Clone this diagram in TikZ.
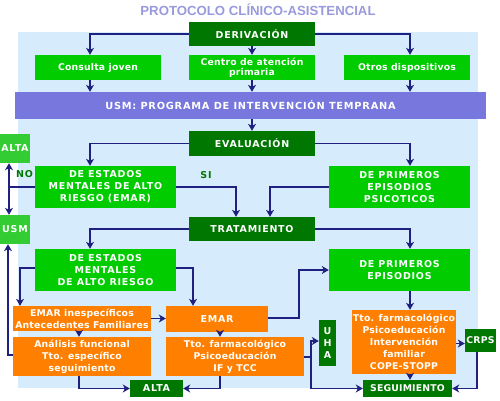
\documentclass[tikz,border=0pt]{standalone}
\usepackage{fontspec}
\usetikzlibrary{arrows.meta,calc}
\newfontfamily\capsf[LetterSpace=8]{DejaVu Sans}
\newfontfamily\lowf[LetterSpace=2]{DejaVu Sans}
\newfontfamily\titlef{Liberation Sans}
\definecolor{bgblue}{RGB}{214,236,252}
\definecolor{dgreen}{RGB}{0,119,0}
\definecolor{bgreen}{RGB}{0,204,0}
\definecolor{lgreen}{RGB}{51,204,51}
\definecolor{purp}{RGB}{119,119,221}
\definecolor{orng}{RGB}{255,128,0}
\definecolor{titlec}{RGB}{153,153,221}
\definecolor{arrowc}{RGB}{32,32,128}
\tikzset{
  bx/.style={inner sep=0pt, align=center, text=white},
  capsfont/.style={font=\capsf\bfseries\fontsize{9.5}{12}\selectfont},
  lowfont/.style={font=\lowf\bfseries\fontsize{9.3}{12}\selectfont},
  dg/.style={bx, fill=dgreen, capsfont},
  bg/.style={bx, fill=bgreen, capsfont},
  bgl/.style={bx, fill=bgreen, lowfont},
  lg/.style={bx, fill=lgreen, capsfont},
  og/.style={bx, fill=orng, lowfont},
  ogc/.style={bx, fill=orng, capsfont},
  lab/.style={inner sep=0pt, text=dgreen, capsfont},
  ln/.style={draw=arrowc, line width=1.7pt},
  arr/.style={ln, -{Stealth[length=7pt,width=8pt,inset=2pt]}}
}
\begin{document}
\begin{tikzpicture}[x=1pt,y=-1pt]
\useasboundingbox (0,0) rectangle (500,400);
\fill[bgblue] (18,32) rectangle (478,388);
\node[anchor=base, inner sep=0pt, text=titlec, font=\titlef\bfseries\fontsize{13.2}{15}\selectfont] (title) at (258,15.7) {PROTOCOLO CLÍNICO-ASISTENCIAL};
% row 1
\node[dg, minimum width=126pt, minimum height=24pt] (der) at (252,34) {DERIVACIÓN};
\node[bgl, minimum width=126pt, minimum height=25pt] (cons) at (98,67.5) {Consulta joven};
\node[bgl, minimum width=126pt, minimum height=25pt, font=\lowf\bfseries\fontsize{9.3}{10}\selectfont] (cen) at (252,67.5) {Centro de atención\\primaria};
\node[bgl, minimum width=126pt, minimum height=25pt] (oth) at (407,67.5) {Otros dispositivos};
\node[bx, fill=purp, minimum width=471pt, minimum height=27pt, font=\capsf\bfseries\fontsize{9.8}{12}\selectfont] (usm) at (250.5,105.5) {USM: PROGRAMA DE INTERVENCIÓN TEMPRANA};
\node[dg, minimum width=126pt, minimum height=25pt] (ev) at (252,143.5) {EVALUACIÓN};
\node[bg, minimum width=141pt, minimum height=42pt] (em1) at (105.5,187) {DE ESTADOS\\MENTALES DE ALTO\\RIESGO (EMAR)};
\node[bg, minimum width=141pt, minimum height=42pt] (pe1) at (399.5,187) {DE PRIMEROS\\EPISODIOS\\PSICOTICOS};
\node[lg, minimum width=30pt, minimum height=29pt] (altaT) at (15,148.5) {ALTA};
\node[lg, minimum width=30pt, minimum height=29pt] (usmS) at (15,229.5) {USM};
\node[lab] (no) at (24.5,174.5) {NO};
\node[lab] (si) at (206,175) {SI};
\node[dg, minimum width=126pt, minimum height=24pt] (tr) at (252,229) {TRATAMIENTO};
\node[bg, minimum width=141pt, minimum height=42pt] (em2) at (105.5,270) {DE ESTADOS\\MENTALES\\DE ALTO RIESGO};
\node[bg, minimum width=141pt, minimum height=42pt] (pe2) at (399.5,270) {DE PRIMEROS\\EPISODIOS};
\node[og, minimum width=138pt, minimum height=25pt] (emi) at (82,318.5) {EMAR inespecíficos\\Antecedentes Familiares};
\node[ogc, minimum width=102pt, minimum height=26pt] (ems) at (217,319) {EMAR};
\node[og, minimum width=138pt, minimum height=39pt] (an) at (82,356.5) {Análisis funcional\\Tto. específico\\seguimiento};
\node[og, minimum width=138pt, minimum height=39pt] (tif) at (235,356.5) {Tto. farmacológico\\Psicoeducación\\IF y TCC};
\node[dg, minimum width=53pt, minimum height=17pt] (altaB) at (156.5,388.5) {ALTA};
\node[dg, minimum width=17pt, minimum height=46pt] (uha) at (327.5,343) {U\\H\\A};
\node[og, minimum width=104pt, minimum height=64pt] (tb) at (404,342) {Tto. farmacológico\\Psicoeducación\\Intervención\\familiar\\COPE-STOPP};
\node[dg, minimum width=31pt, minimum height=23pt, lowfont] (crps) at (480.5,340.5) {CRPS};
\node[dg, minimum width=89pt, minimum height=17pt, lowfont] (seg) at (407.5,388.5) {SEGUIMIENTO};
% connectors
\draw[arr] (der.west) -| ([xshift=-8pt]cons.north);
\draw[arr] (der.south) -- (cen.north);
\draw[arr] (der.east) -| ([xshift=3pt]oth.north);
\draw[arr] ([xshift=-8pt]cons.south) -- ([xshift=-8pt]cons.south |- usm.north);
\draw[arr] (cen.south) -- (cen.south |- usm.north);
\draw[arr] ([xshift=3pt]oth.south) -- ([xshift=3pt]oth.south |- usm.north);
\draw[arr] (ev.north |- usm.south) -- (ev.north);
\draw[arr] (ev.west) -| ([xshift=-15.5pt]em1.north);
\draw[arr] (ev.east) -| ([xshift=10.5pt]pe1.north);
\coordinate (j1) at (9,187);
\draw[ln] (em1.west) -- (j1);
\draw[arr] (j1) -- (j1 |- altaT.south);
\draw[arr] (j1) -- (j1 |- usmS.north);
\draw[arr] (em1.east) -| ([xshift=-16pt]tr.north);
\draw[arr] (pe1.west) -| ([xshift=18pt]tr.north);
\draw[arr] (tr.west) -| ([xshift=-15.5pt]em2.north);
\draw[arr] (tr.east) -| ([xshift=10.5pt]pe2.north);
\draw[arr] ([yshift=2pt]em2.west) -| ([xshift=-62pt]emi.north);
\draw[arr] ([yshift=2pt]em2.east) -| ([xshift=-24pt]ems.north);
\draw[arr] (emi.east) -- (emi.east -| ems.west);
\draw[arr] ([xshift=-3pt]emi.south) -- ([xshift=-3pt]emi.south |- an.north);
\draw[arr] ([xshift=3pt]ems.south) -- ([xshift=3pt]ems.south |- tif.north);
\draw[arr] ([xshift=-3pt]an.south) |- (altaB.west);
\draw[arr] ([xshift=-15pt]tif.south) |- (altaB.east);
\coordinate (j2) at (8,355);
\draw[arr] ([yshift=1.5pt]an.west) -- (j2) -- (j2 |- usmS.south);
\draw[arr] ([yshift=1pt]ems.east) -- ++(31,0) |- (pe2.west);
\coordinate (j3) at (311,357);
\draw[ln] ([yshift=-0.5pt]tif.east) -- (j3);
\draw[arr] (j3) |- ([yshift=2pt]uha.west);
\draw[arr] (j3) |- (seg.west);
\draw[arr] ([xshift=10.5pt]pe2.south) -- ([xshift=10.5pt]pe2.south |- tb.north);
\draw[arr] ([xshift=6pt]tb.south) -- ([xshift=6pt]tb.south |- seg.north);
\draw[arr] ([yshift=-1.5pt]tb.east) -- ([yshift=-1.5pt]tb.east -| crps.west);
\draw[arr] ([xshift=-3.5pt]crps.south) |- (seg.east);
\end{tikzpicture}
\end{document}
